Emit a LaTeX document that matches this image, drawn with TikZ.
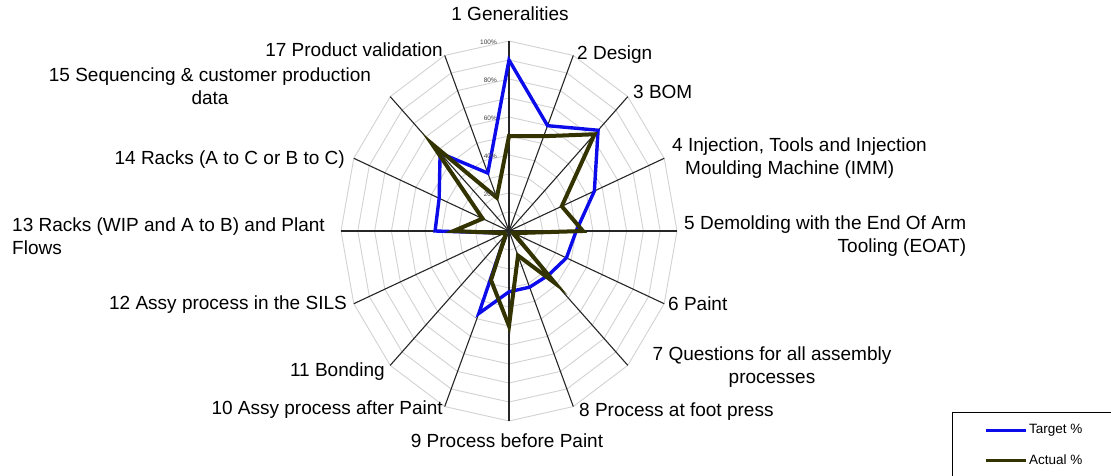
\documentclass[tikz,border=0pt]{standalone}
\usepackage{fontspec}
\setmainfont{Liberation Sans}
\definecolor{tgt}{RGB}{12,12,235}
\definecolor{act}{RGB}{51,51,0}
\definecolor{ringgray}{RGB}{210,210,210}
\tikzset{
  lbl/.style={font=\fontsize{19}{23}\selectfont, inner sep=0pt},
  pct/.style={font=\fontsize{6.5}{7}\selectfont, inner sep=0pt, text=black!75, anchor=east},
  spoke/.style={draw=black!85, line width=1.1pt},
  gridring/.style={draw=ringgray, line width=0.9pt},
  tgtline/.style={draw=tgt, line width=3.4pt, line join=miter},
  actline/.style={draw=act, line width=4pt, line join=miter},
  legtext/.style={font=\fontsize{13.5}{15}\selectfont, inner sep=0pt, anchor=west},
}
\begin{document}
\begin{tikzpicture}[x=1pt,y=-1pt]
\useasboundingbox (0,0) rectangle (1111,476);
\fill[white] (0,0) rectangle (1111,476);
\begin{scope}[shift={(509,231)}, x=168pt, y=190pt]
  \coordinate (O) at (0,0);
  % grid rings
  \foreach \r in {1,...,10}{
    \draw[gridring] (90:\r/10) \foreach \k in {1,...,15}{ -- ({90-22.5*\k}:\r/10) } -- cycle;
  }
  % spokes
  \foreach \k in {0,...,15}{
    \coordinate (s\k) at ({90-22.5*\k}:1);
    \draw[spoke] (O) -- (s\k);
  }
  % data points
  \foreach \v [count=\i from 0] in {0.90,0.60,0.75,0.55,0.40,0.37,0.33,0.32,0.32,0.47,0.03,0.03,0.44,0.45,0.58,0.33}{
    \coordinate (t\i) at ({90-22.5*\i}:\v);
  }
  \foreach \v [count=\i from 0] in {0.50,0.54,0.72,0.34,0.44,0.03,0.39,0.14,0.50,0.28,0.03,0.03,0.33,0.17,0.65,0.19}{
    \coordinate (a\i) at ({90-22.5*\i}:\v);
  }
  \draw[tgtline] (t0)--(t1)--(t2)--(t3)--(t4)--(t5)--(t6)--(t7)--(t8)--(t9)--(t10)--(t11)--(t12)--(t13)--(t14)--(t15)--cycle;
  \draw[actline] (a0)--(a1)--(a2)--(a3)--(a4)--(a5)--(a6)--(a7)--(a8)--(a9)--(a10)--(a11)--(a12)--(a13)--(a14)--(a15)--cycle;
\end{scope}
% percentage labels
\node[pct] (p100) at (497,42) {100\%};
\node[pct] (p80) at (497,80) {80\%};
\node[pct] (p60) at (497,118) {60\%};
\node[pct] (p40) at (497,156) {40\%};
\node[pct] (p20) at (497,194) {20\%};
% category labels
\node[lbl, anchor=center] (L1) at (510,14) {1 Generalities};
\node[lbl, anchor=west] (L2) at (577,55) {2 Design};
\node[lbl, anchor=west] (L3) at (633,92) {3 BOM};
\node[lbl, anchor=west, align=left] (L4) at (672,158.5) {4 Injection, Tools and Injection\\\hspace*{13pt}Moulding Machine (IMM)};
\node[lbl, anchor=west, align=right] (L5) at (684,236) {5 Demolding with the End Of Arm\\Tooling (EOAT)};
\node[lbl, anchor=west] (L6) at (668,304) {6 Paint};
\node[lbl, anchor=center, align=center] (L7) at (772,367) {7 Questions for all assembly\\processes};
\node[lbl, anchor=west] (L8) at (579,412) {8 Process at foot press};
\node[lbl, anchor=center] (L9) at (507,441) {9 Process before Paint};
\node[lbl, anchor=east] (L10) at (443,410) {10 Assy process after Paint};
\node[lbl, anchor=east] (L11) at (385,372) {11 Bonding};
\node[lbl, anchor=east] (L12) at (347,305) {12 Assy process in the SILS};
\node[lbl, anchor=west, align=left] (L13) at (12,236.5) {13 Racks (WIP and A to B) and Plant\\Flows};
\node[lbl, anchor=east] (L14) at (345,160) {14 Racks (A to C or B to C)};
\node[lbl, anchor=center, align=center] (L15) at (210,86.5) {15 Sequencing \& customer production\\data};
\node[lbl, anchor=east] (L17) at (443,50) {17 Product validation};
% legend
\draw[black, line width=1pt] (952,412) rectangle (1125,495);
\coordinate (lg1a) at (986,430);
\coordinate (lg1b) at (1026,430);
\coordinate (lg2a) at (986,460);
\coordinate (lg2b) at (1026,460);
\draw[draw=tgt, line width=3pt] (lg1a) -- (lg1b);
\draw[draw=act, line width=3pt] (lg2a) -- (lg2b);
\node[legtext] (lt1) at (1029,430) {Target \%};
\node[legtext] (lt2) at (1029,460) {Actual \%};
\end{tikzpicture}
\end{document}
